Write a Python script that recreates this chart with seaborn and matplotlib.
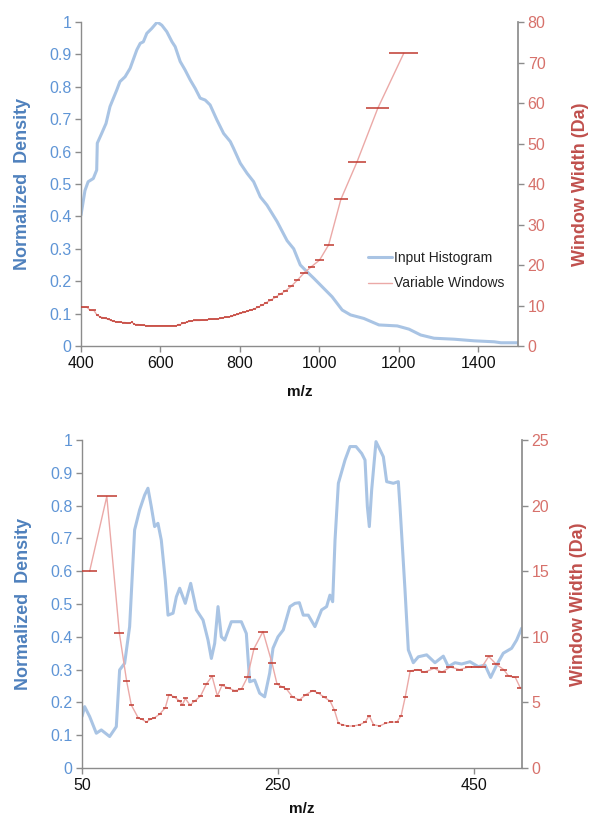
import numpy as np
import matplotlib
matplotlib.use('Agg')
import matplotlib.pyplot as plt
import seaborn as sns

# ---- top panel: input histogram (normalized density) ----
top_hist_mz = [400, 410, 418, 431, 439.5, 441, 452, 463, 473, 490, 498, 511, 523.6, 540.5,
               549, 557, 565.7, 578, 592, 603.5, 616, 629, 637, 649.7, 662, 675, 687.5, 700,
               712.7, 725, 742, 759, 775.8, 784, 801, 818, 834.6, 851.5, 868, 893.6, 918.8,
               935.4, 952, 969, 986, 1011, 1032, 1057.5, 1078.4, 1112, 1150, 1196, 1225.6,
               1255, 1288.6, 1339, 1389.5, 1440, 1457, 1500]
top_hist_density = [0.404, 0.48, 0.507, 0.517, 0.543, 0.626, 0.656, 0.687, 0.739, 0.79, 0.816,
                    0.831, 0.857, 0.914, 0.934, 0.939, 0.965, 0.98, 1.0, 0.99, 0.97, 0.939,
                    0.924, 0.878, 0.852, 0.821, 0.795, 0.765, 0.759, 0.744, 0.698, 0.656, 0.631,
                    0.61, 0.564, 0.533, 0.507, 0.46, 0.435, 0.384, 0.325, 0.3, 0.25, 0.229,
                    0.209, 0.178, 0.152, 0.111, 0.096, 0.085, 0.065, 0.062, 0.052, 0.034, 0.024,
                    0.021, 0.016, 0.013, 0.01, 0.01]

# ---- top panel: variable windows (contiguous, starting at 400 m/z) ----
top_win_start = 400
top_win_width = [9.6, 9.6, 8.8, 8.8, 7.6, 7.2, 7.0, 6.8, 6.6, 6.3, 6.1, 6.0, 5.9, 5.9, 5.8, 5.8,
                 5.6, 5.6, 5.9, 5.4, 5.3, 5.3, 5.2, 5.1, 5.1, 5.0,
                 5.0, 5.0, 5.0, 5.0, 5.0, 5.0, 5.0, 5.0, 5.0, 5.0, 5.0, 5.0, 5.0, 5.0, 5.0,
                 5.3, 5.3, 5.6, 5.8, 5.9, 6.1, 6.2, 6.3, 6.3, 6.3, 6.4, 6.4, 6.5, 6.6, 6.6,
                 6.7, 6.7, 6.8, 7.0, 7.1, 7.2, 7.3, 7.6, 7.8, 8.1, 8.3, 8.6, 8.9, 9.2, 9.6,
                 10.1, 10.7, 11.3, 12.0, 12.8, 13.6, 14.7, 16.2, 18.0, 19.6, 21.2, 25.0,
                 36.2, 45.5, 58.7, 72.3]

# ---- bottom panel: input histogram ----
bot_hist_mz = [50, 52.7, 57.8, 64.6, 69.7, 78.2, 85, 88.4, 93.5, 98.6, 103.7, 108.8, 113.9,
               117.3, 120.7, 124.1, 127.5, 130.9, 135, 137.8, 142.9, 146.3, 149.7, 155.4,
               160.9, 166.7, 173.5, 178.6, 182, 185.4, 188.8, 192.2, 195.6, 202.4, 212.6,
               217.7, 221.1, 226.2, 231.3, 236.4, 241.5, 244.9, 250, 255.4, 262.2, 267.3,
               271.8, 275.8, 280.9, 287.7, 294.5, 299.6, 303, 305.8, 308.2, 311.6, 318.4,
               323.5, 329.6, 335.4, 338.8, 341.2, 343.2, 345.6, 350, 354.1, 357.5, 360.9,
               367.7, 372.8, 374.5, 379.6, 383, 388.1, 393.2, 401.7, 410.2, 418.7, 423.8,
               430.6, 437.4, 445.9, 454.4, 461.2, 467, 473.1, 479.9, 488.4, 493.5, 498.6]
bot_hist_density = [0.157, 0.187, 0.157, 0.106, 0.116, 0.096, 0.126, 0.299, 0.319, 0.431,
                    0.726, 0.787, 0.832, 0.853, 0.797, 0.736, 0.746, 0.695, 0.573, 0.466,
                    0.472, 0.522, 0.548, 0.502, 0.563, 0.482, 0.451, 0.39, 0.334, 0.38, 0.492,
                    0.4, 0.39, 0.446, 0.446, 0.41, 0.263, 0.268, 0.228, 0.217, 0.289, 0.365,
                    0.4, 0.421, 0.492, 0.502, 0.504, 0.466, 0.466, 0.431, 0.482, 0.492, 0.527,
                    0.507, 0.695, 0.868, 0.939, 0.98, 0.98, 0.959, 0.939, 0.797, 0.736, 0.848,
                    0.995, 0.97, 0.949, 0.873, 0.868, 0.873, 0.797, 0.543, 0.36, 0.321, 0.339,
                    0.345, 0.321, 0.341, 0.309, 0.321, 0.317, 0.324, 0.309, 0.314, 0.276,
                    0.314, 0.35, 0.365, 0.39, 0.426]

# ---- bottom panel: variable windows ----
bot_win_center = [57.8, 75.3, 88.1, 95.6, 100.3, 107.5, 111.5, 115.6, 119.5, 123.4, 129.2,
                  135.0, 138.8, 144.6, 149.7, 152.4, 155.4, 160.2, 165.0, 171.1, 176.9,
                  182.7, 188.1, 192.9, 199.0, 205.8, 212.6, 218.7, 225.5, 234.7, 243.9,
                  249.0, 253.8, 258.9, 265.0, 271.9, 278.7, 285.5, 291.3, 297.1, 303.2,
                  307.6, 311.7, 316.1, 320.9, 327.0, 333.2, 339.0, 343.0, 347.5, 353.6,
                  359.4, 365.2, 371.3, 375.7, 379.8, 384.9, 392.7, 399.2, 409.4, 417.3,
                  425.8, 435.3, 444.5, 450.3, 458.1, 465.0, 472.8, 480.3, 485.4, 492.2, 497.3]
bot_win_width = [15.0, 20.7, 10.3, 6.6, 4.8, 3.8, 3.7, 3.5, 3.7, 3.8, 4.1, 4.6, 5.6, 5.4, 5.1,
                 4.8, 5.3, 4.8, 5.1, 5.5, 6.4, 7.0, 5.5, 6.3, 6.1, 5.9, 6.0, 6.9, 9.1, 10.4,
                 8.0, 6.4, 6.2, 6.0, 5.4, 5.2, 5.6, 5.9, 5.7, 5.4, 5.1, 4.4, 3.4, 3.3, 3.2,
                 3.2, 3.3, 3.5, 4.0, 3.3, 3.2, 3.4, 3.5, 3.5, 4.0, 5.4, 7.4, 7.5, 7.3, 7.6,
                 7.3, 7.7, 7.5, 7.7, 7.7, 7.7, 8.5, 7.9, 7.5, 7.0, 6.9, 6.1]

BLUE_LINE = '#A9C4E4'
BLUE_TICK = '#5F95D6'
BLUE_LABEL = '#4F81BD'
RED_LINE = '#EBA9A7'
RED_CAP = '#C0392F'
RED_TICK = '#D7716B'
RED_LABEL = '#C0504D'
SPINE = '#8C8C8C'

sns.set_theme(style='white')
plt.rcParams['font.family'] = ['Liberation Sans', 'DejaVu Sans']


def draw_panel(ax, hist_x, hist_y, win_c, win_w, xlim, xticks, y2max, y2step,
               xlabelpad=10, y2labelpad=19, legend=False):
    '''
    Draws the normalized histogram on the left axis and the
    variable windows (centre + window span) on a twin right axis.
    '''
    sns.lineplot(x=hist_x, y=hist_y, ax=ax, color=BLUE_LINE, linewidth=2.2,
                 sort=False, estimator=None, label='Input Histogram', legend=False)
    ax.set_xlim(*xlim)
    ax.set_ylim(0, 1)
    yt = np.round(np.arange(0, 1.01, 0.1), 1)
    ax.set_yticks(yt)
    ax.set_yticklabels([f'{t:g}' for t in yt], color=BLUE_TICK, fontsize=11.5)
    ax.set_xticks(xticks)
    ax.set_xticklabels([str(t) for t in xticks], color='#111111', fontsize=11.5)
    ax.set_ylabel('Normalized  Density', fontsize=13, fontweight='bold', color=BLUE_LABEL, labelpad=13)
    ax.set_xlabel('m/z', fontsize=11, fontweight='bold', color='#111111', labelpad=xlabelpad)
    for s in ['top', 'right']:
        ax.spines[s].set_visible(False)
    for s in ['left', 'bottom']:
        ax.spines[s].set_color(SPINE)
        ax.spines[s].set_linewidth(1.0)
    ax.tick_params(axis='both', which='major', direction='out', length=4, width=1,
                   color=SPINE, left=True, bottom=True, pad=3)

    ax2 = ax.twinx()
    sns.lineplot(x=win_c, y=win_w, ax=ax2, color=RED_LINE, linewidth=1.0,
                 sort=False, estimator=None, label='Variable Windows', legend=False)
    ax2.errorbar(win_c, win_w, xerr=np.array(win_w) / 2, fmt='none',
                 ecolor=RED_CAP, elinewidth=1.1, capsize=0)
    ax2.set_ylim(0, y2max)
    y2t = np.arange(0, y2max + 1, y2step)
    ax2.set_yticks(y2t)
    ax2.set_yticklabels([str(t) for t in y2t], color=RED_TICK, fontsize=11.5)
    ax2.set_ylabel('Window Width (Da)', fontsize=13, fontweight='bold', color=RED_LABEL,
                   labelpad=y2labelpad)
    for s in ['top', 'left', 'bottom']:
        ax2.spines[s].set_visible(False)
    ax2.spines['right'].set_color(SPINE)
    ax2.tick_params(axis='y', direction='out', length=4, width=1, color=SPINE, right=True, pad=3)
    ax2.grid(False)
    ax.grid(False)

    if legend:
        h1 = ax.get_lines()[0]
        h2 = ax2.get_lines()[0]
        ax.legend([h1, h2], ['Input Histogram', 'Variable Windows'], frameon=False,
                  loc='center left', bbox_to_anchor=(0.64, 0.232), fontsize=10,
                  handlelength=1.75, handletextpad=0.15, labelspacing=0.8,
                  borderpad=0, labelcolor='#222222')


fig = plt.figure(figsize=(5.89, 8.17), dpi=100)
ax_top = fig.add_axes([81 / 589, 1 - 346 / 817, (518 - 81) / 589, (346 - 22) / 817])
ax_bot = fig.add_axes([82 / 589, 1 - 768 / 817, (522 - 82) / 589, (768 - 440) / 817])

top_edges = top_win_start + np.cumsum(top_win_width)
top_win_center = top_edges - np.array(top_win_width) / 2

draw_panel(ax_top, top_hist_mz, top_hist_density, top_win_center, top_win_width,
           (400, 1500), [400, 600, 800, 1000, 1200, 1400], 80, 10,
           xlabelpad=10, y2labelpad=19, legend=True)
draw_panel(ax_bot, bot_hist_mz, bot_hist_density, bot_win_center, bot_win_width,
           (50, 499), [50, 250, 450], 25, 5, xlabelpad=7, y2labelpad=15)

fig.savefig('out.png', dpi=100)
